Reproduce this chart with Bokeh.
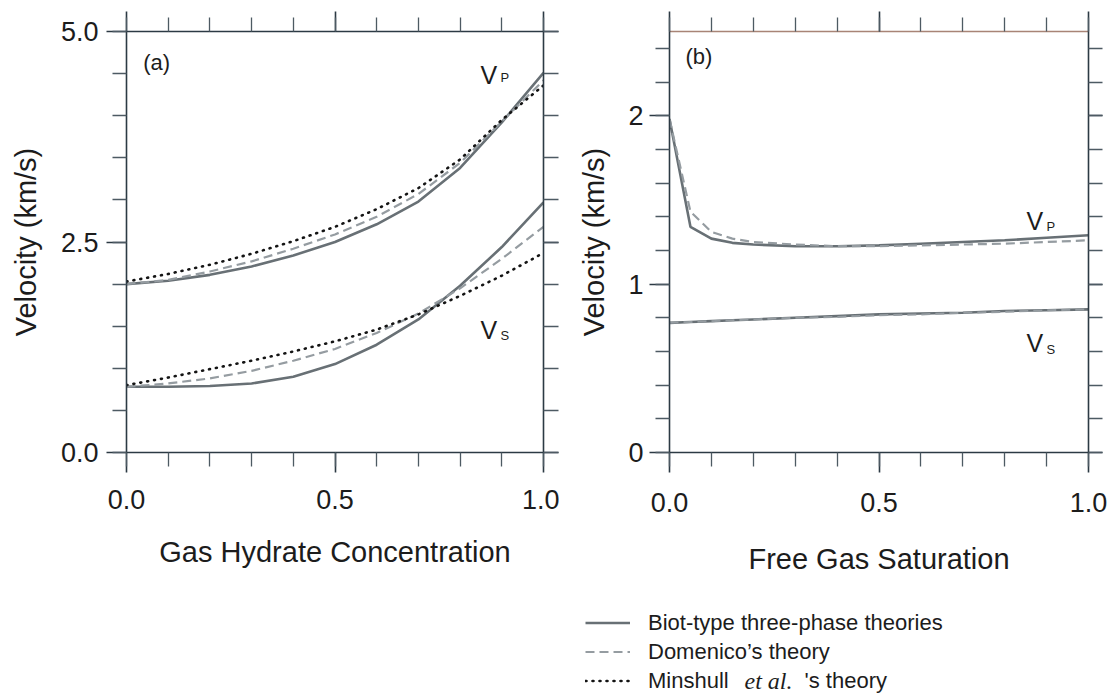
from bokeh.plotting import figure
from bokeh.models import (Range1d, LinearAxis, FixedTicker, Label, Legend,
                          LegendItem, CustomJSTickFormatter)
from bokeh.layouts import column, row
from bokeh.embed import file_html
from bokeh.resources import INLINE

# ---------------- data ----------------
# Panel (a): velocity vs gas hydrate concentration
hyd_x = [0.0, 0.1, 0.2, 0.3, 0.4, 0.5, 0.6, 0.7, 0.8, 0.9, 1.0]
a_vp_biot = [2.00, 2.04, 2.11, 2.21, 2.34, 2.50, 2.71, 2.98, 3.38, 3.92, 4.51]
a_vp_domenico = [2.00, 2.05, 2.15, 2.27, 2.42, 2.59, 2.80, 3.07, 3.44, 3.93, 4.42]
a_vp_minshull = [2.03, 2.12, 2.23, 2.36, 2.51, 2.68, 2.89, 3.14, 3.48, 3.95, 4.36]
a_vs_biot = [0.78, 0.78, 0.79, 0.82, 0.90, 1.05, 1.28, 1.58, 1.98, 2.44, 2.97]
a_vs_domenico = [0.78, 0.82, 0.88, 0.97, 1.09, 1.23, 1.42, 1.65, 1.95, 2.30, 2.68]
a_vs_minshull = [0.80, 0.89, 0.99, 1.09, 1.20, 1.32, 1.46, 1.64, 1.86, 2.10, 2.37]

# Panel (b): velocity vs free gas saturation
sat_x = [0.0, 0.05, 0.1, 0.15, 0.2, 0.3, 0.4, 0.5, 0.6, 0.7, 0.8, 0.9, 1.0]
b_vp_biot = [1.98, 1.34, 1.27, 1.245, 1.235, 1.225, 1.225, 1.23, 1.24, 1.25, 1.26, 1.275, 1.29]
b_vp_domenico = [1.98, 1.43, 1.31, 1.27, 1.25, 1.235, 1.225, 1.225, 1.23, 1.235, 1.24, 1.25, 1.26]
b_vs_biot = [0.77, 0.775, 0.78, 0.785, 0.79, 0.80, 0.81, 0.82, 0.825, 0.83, 0.84, 0.845, 0.85]
b_vs_domenico = [0.77, 0.775, 0.78, 0.785, 0.79, 0.80, 0.805, 0.815, 0.82, 0.83, 0.835, 0.845, 0.85]

a_x_ticks = [0.0, 0.5, 1.0]
a_x_minor = [0.0, 0.1, 0.2, 0.3, 0.4, 0.5, 0.6, 0.7, 0.8, 0.9, 1.0]
a_y_ticks = [0.0, 2.5, 5.0]
a_y_minor = [0.0, 0.5, 1.0, 1.5, 2.0, 2.5, 3.0, 3.5, 4.0, 4.5, 5.0]
b_x_ticks = [0.0, 0.5, 1.0]
b_x_minor = a_x_minor
b_y_ticks = [0, 1, 2]
b_y_minor = [0.0, 0.2, 0.4, 0.6, 0.8, 1.0, 1.2, 1.4, 1.6, 1.8, 2.0, 2.2, 2.4]

legend_labels = ["Biot-type three-phase theories", "Domenico\u2019s theory", "Minshull"]

# ---------------- style ----------------
FONT = "Liberation Sans"
TXT = "#1c1c1c"
AX = "#2c3a44"
MINOR = "#4d5a63"
SOLID_C = "#687075"
DASH_C = "#959ca1"
DOT_C = "#141414"
EMPTY = CustomJSTickFormatter(code="return ''")


def add_axis(p, side, ticks, minor, fmt_y, labelled, label=None, tick_out=20,
             minor_out=14, line_color=AX, label_standoff=14, axis_label_standoff=20):
    ax = LinearAxis(ticker=FixedTicker(ticks=ticks, minor_ticks=minor))
    ax.axis_line_color = line_color
    ax.axis_line_width = 1.6
    ax.major_tick_line_color = AX
    ax.major_tick_line_width = 1.6
    ax.minor_tick_line_color = MINOR
    ax.minor_tick_line_width = 1.3
    ax.major_tick_in = 0
    ax.minor_tick_in = 0
    ax.major_tick_out = tick_out
    ax.minor_tick_out = minor_out
    if labelled:
        if fmt_y is not None:
            ax.major_label_overrides = fmt_y
        ax.major_label_text_font = FONT
        ax.major_label_text_font_size = "27px"
        ax.major_label_text_color = TXT
        ax.major_label_standoff = label_standoff
    else:
        ax.formatter = EMPTY
        ax.major_label_text_font_size = "0px"
        ax.major_label_standoff = 0
    if label:
        ax.axis_label = label
        ax.axis_label_text_font = FONT
        ax.axis_label_text_font_size = "29px"
        ax.axis_label_text_font_style = "normal"
        ax.axis_label_text_color = TXT
        ax.axis_label_standoff = axis_label_standoff
    p.add_layout(ax, side)
    return ax


def base_fig(width, xr, yr, left, right, top, bottom):
    p = figure(width=width, height=590, x_range=Range1d(*xr), y_range=Range1d(*yr),
               output_backend="svg", toolbar_location=None,
               x_axis_location=None, y_axis_location=None,
               min_border_left=left, min_border_right=right,
               min_border_top=top, min_border_bottom=bottom)
    p.xgrid.visible = False
    p.ygrid.visible = False
    p.outline_line_color = None
    p.background_fill_color = "white"
    p.border_fill_color = "white"
    return p


def v_label(p, x, y, sub, sx, sy):
    p.add_layout(Label(x=x, y=y, text="V", text_font=FONT, text_font_size="25px",
                       text_color=TXT, text_baseline="alphabetic"))
    p.add_layout(Label(x=sx, y=sy, text=sub, text_font=FONT, text_font_size="13px",
                       text_color=TXT, text_baseline="alphabetic"))


# ---------------- panel (a) ----------------
pa = base_fig(559, (0, 1), (0, 5), 126, 16, 31, 138)
add_axis(pa, "below", a_x_ticks, a_x_minor, {0: "0.0", 0.5: "0.5", 1: "1.0"}, True,
         "Gas Hydrate Concentration", label_standoff=17, axis_label_standoff=24)
add_axis(pa, "left", a_y_ticks, a_y_minor, {0: "0.0", 2.5: "2.5", 5: "5.0"}, True,
         "Velocity (km/s)", label_standoff=8, axis_label_standoff=16)
add_axis(pa, "above", a_x_ticks, a_x_minor, None, False)
add_axis(pa, "right", a_y_ticks, a_y_minor, None, False, tick_out=15, minor_out=15)

for xs, ys in ((hyd_x, a_vp_biot), (hyd_x, a_vs_biot)):
    pa.line(xs, ys, line_color=SOLID_C, line_width=2.6)
for xs, ys in ((hyd_x, a_vp_domenico), (hyd_x, a_vs_domenico)):
    pa.line(xs, ys, line_color=DASH_C, line_width=2.2, line_dash="9 5")
for xs, ys in ((hyd_x, a_vp_minshull), (hyd_x, a_vs_minshull)):
    pa.line(xs, ys, line_color=DOT_C, line_width=2.6, line_dash="1 6", line_cap="round")

pa.add_layout(Label(x=0.04, y=4.63, text="(a)", text_font=FONT, text_font_size="22px",
                    text_color=TXT, text_baseline="middle"))
v_label(pa, 0.849, 4.48, "P", 0.897, 4.45)
v_label(pa, 0.849, 1.46, "S", 0.897, 1.39)

# ---------------- panel (b) ----------------
pb = base_fig(554, (0, 1), (0, 2.5), 110, 25, 31, 134)
add_axis(pb, "below", b_x_ticks, b_x_minor, {0: "0.0", 0.5: "0.5", 1: "1.0"}, True,
         "Free Gas Saturation", label_standoff=20, axis_label_standoff=28)
add_axis(pb, "left", b_y_ticks, b_y_minor, {0: "0", 1: "1", 2: "2"}, True,
         "Velocity (km/s)", label_standoff=6, axis_label_standoff=15)
add_axis(pb, "above", b_x_ticks, b_x_minor, None, False, line_color="#a88476")
add_axis(pb, "right", b_y_ticks, b_y_minor, None, False, tick_out=14, minor_out=14)

pb.line(sat_x, b_vp_biot, line_color=SOLID_C, line_width=2.6)
pb.line(sat_x, b_vs_biot, line_color=SOLID_C, line_width=2.6)
pb.line(sat_x, b_vp_domenico, line_color=DASH_C, line_width=2.2, line_dash="9 5")
pb.line(sat_x, b_vs_domenico, line_color=DASH_C, line_width=2.0, line_dash="9 5")

pb.add_layout(Label(x=0.038, y=2.35, text="(b)", text_font=FONT, text_font_size="22px",
                    text_color=TXT, text_baseline="middle"))
v_label(pb, 0.852, 1.376, "P", 0.900, 1.341)
v_label(pb, 0.852, 0.653, "S", 0.900, 0.612)

# ---------------- legend strip ----------------
pl = figure(width=1113, height=110, x_range=Range1d(0, 1113), y_range=Range1d(110, 0),
            output_backend="svg", toolbar_location=None,
            x_axis_location=None, y_axis_location=None, min_border=0)
pl.xgrid.visible = False
pl.ygrid.visible = False
pl.outline_line_color = None
# legend-key renderers: they sit outside the visible range, only their glyph styles are used
key_x = [-50, -40]
key_y = [-50, -50]
r1 = pl.line(x=key_x, y=key_y, line_color=SOLID_C, line_width=2.6)
r2 = pl.line(x=key_x, y=key_y, line_color=DASH_C, line_width=2.2, line_dash="9 5")
r3 = pl.line(x=key_x, y=key_y, line_color=DOT_C, line_width=2.6, line_dash="1 6",
             line_cap="round")
leg = Legend(items=[LegendItem(label=legend_labels[0], renderers=[r1]),
                    LegendItem(label=legend_labels[1], renderers=[r2]),
                    LegendItem(label=legend_labels[2], renderers=[r3])],
             location=(585, 5), orientation="vertical",
             glyph_width=45, glyph_height=29, label_height=29, label_standoff=18,
             spacing=0, padding=0, margin=0, border_line_alpha=0,
             background_fill_alpha=0, label_text_font=FONT,
             label_text_font_size="22px", label_text_color=TXT)
pl.add_layout(leg)
pl.add_layout(Label(x=744, y=90, text="et al.", text_font="Liberation Serif",
                    text_font_style="italic", text_font_size="24px", text_color=TXT,
                    text_baseline="middle"))
pl.add_layout(Label(x=804, y=90, text="'s theory", text_font=FONT,
                    text_font_size="22px", text_color=TXT, text_baseline="middle"))

layout = column(row(pa, pb), pl)
open("out.html", "w").write(file_html(layout, INLINE))
